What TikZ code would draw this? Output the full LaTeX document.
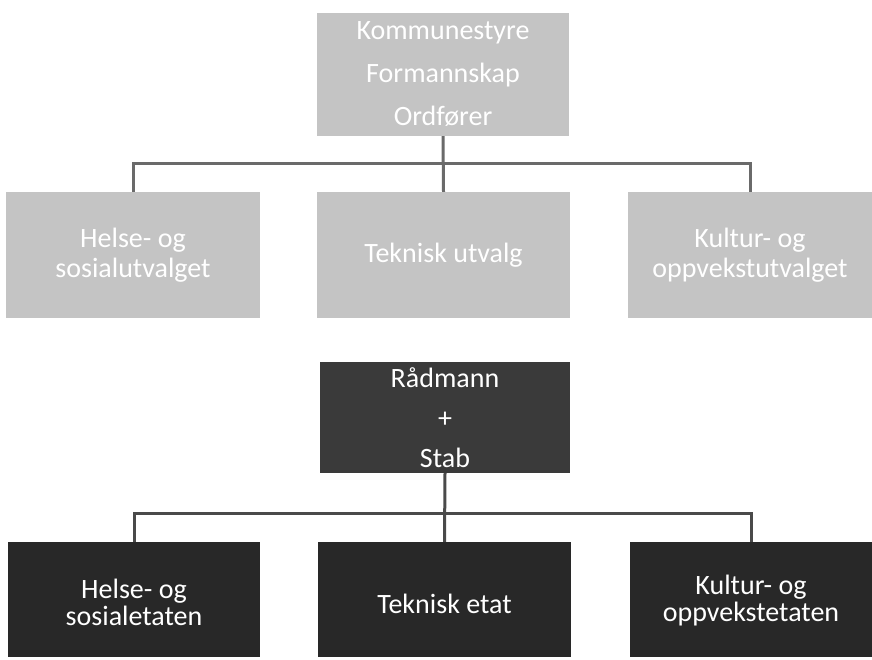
\documentclass[tikz,border=0pt]{standalone}
\usepackage{fontspec}
\setmainfont{Carlito}
\definecolor{lightbox}{HTML}{C4C4C4}
\definecolor{midbox}{HTML}{3A3A3A}
\definecolor{darkbox}{HTML}{282828}
\definecolor{lineA}{HTML}{6A6A6A}
\definecolor{lineB}{HTML}{4A4A4A}
\tikzset{
  boxbase/.style={inner sep=0pt, align=center, text=white, font=\fontsize{28}{30}\selectfont},
  lbox/.style={boxbase, fill=lightbox},
  rbox/.style={boxbase, fill=midbox},
  dbox/.style={boxbase, fill=darkbox},
  txt/.style={inner sep=0pt, align=center, text=white, font=\fontsize{28}{26.5}\selectfont},
  conA/.style={draw=lineA, line width=3pt},
  conB/.style={draw=lineB, line width=3pt},
}
\begin{document}
\begin{tikzpicture}[x=1pt,y=-1pt]
\useasboundingbox (0,0) rectangle (872,659);
% top
\node[lbox, minimum width=252pt, minimum height=123pt, font=\fontsize{28}{43}\selectfont] (top) at (443,74.5) {Kommunestyre\\Formannskap\\Ordfører};
% row 2
\node[lbox, minimum width=254pt, minimum height=126pt] (hs) at (133,255) {Helse- og\\sosialutvalget};
\node[lbox, minimum width=253pt, minimum height=126pt] (tu) at (443.5,255) {Teknisk utvalg};
\node[lbox, minimum width=244pt, minimum height=126pt] (ko) at (750,255) {Kultur- og\\oppvekstutvalget};
\coordinate (busA) at (443,163);
\draw[conA] (top.south) -- (tu.north);
\draw[conA] (hs.north) |- (busA) -| (ko.north);
% Rådmann
\node[rbox, minimum width=250pt, minimum height=111pt, font=\fontsize{28}{40}\selectfont] (rad) at (445,417.5) {Rådmann\\+\\Stab};
% bottom row
\node[dbox, minimum width=252pt, minimum height=115pt] (hse) at (134,599.5) {};
\node[dbox, minimum width=253pt, minimum height=115pt] (tee) at (444.5,599.5) {};
\node[dbox, minimum width=242pt, minimum height=115pt] (koe) at (751,599.5) {};
\node[txt] (hset) at ([yshift=-3pt]hse.center) {Helse- og\\sosialetaten};
\node[txt] (teet) at ([yshift=-4pt]tee.center) {Teknisk etat};
\node[txt] (koet) at ([yshift=-1pt]koe.center) {Kultur- og\\oppvekstetaten};
\coordinate (busB) at (445,513);
\draw[conB] (rad.south) -- (tee.north);
\draw[conB] (hse.north) |- (busB) -| (koe.north);
\end{tikzpicture}
\end{document}
